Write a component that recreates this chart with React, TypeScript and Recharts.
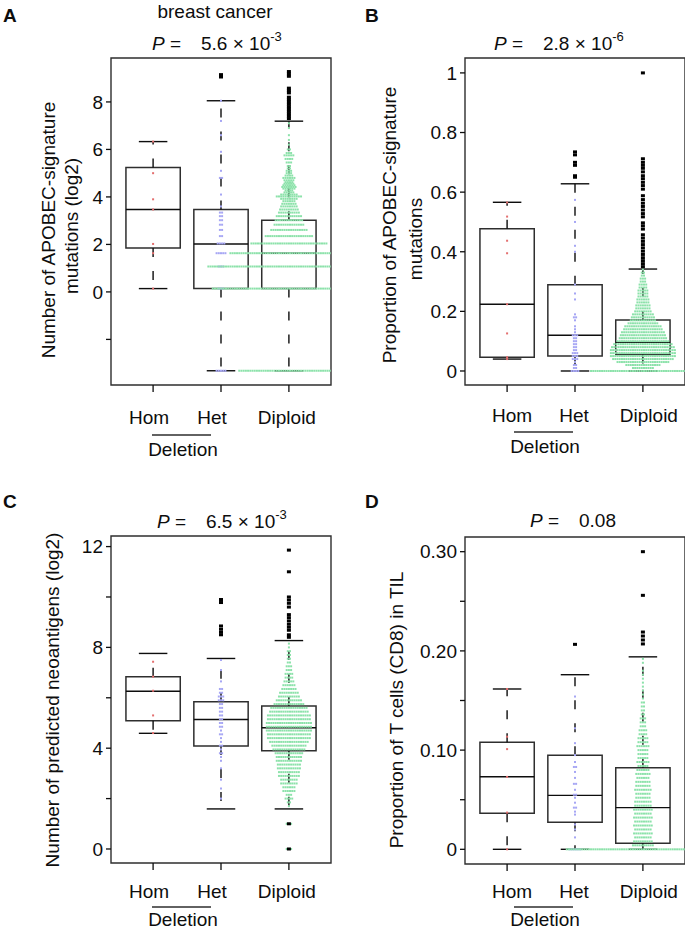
import React from "react";
import { ScatterChart, Scatter, XAxis, YAxis, ReferenceArea, ReferenceLine } from "recharts";

const FONT = '"Liberation Sans", Arial, Helvetica, sans-serif';
const INK = "#0d0d0d";
const EDGE = "#2e2e2e";
const GROUP_COLORS = ["#e46f6f", "#a6a6f4", "#8ce2aa"];
const GROUPS = ["Hom", "Het", "Diploid"];

const W = 345;
const H = 465;
const X_DOMAIN: [number, number] = [0.38, 3.62];
const BOX_HALF = 0.4;
const CAP_HALF = 0.21;
const DOT_STEP = 0.0325; // about 2.2px between dots in a swarm row

// ---- A: APOBEC-signature mutations (log2) ----
const A_TICKS = [-2, 0, 2, 4, 6, 8];
const A_TICK_LABELS = ["", "0", "2", "4", "6", "8"];
const A_Q1 = [1.85, 0.14, 0.14];
const A_MED = [3.47, 2.02, 1.63];
const A_Q3 = [5.24, 3.47, 3.02];
const A_LO = [0.14, -3.32, -3.32];
const A_HI = [6.33, 8.05, 7.19];
const A_OUT_HET = [9.15, 9.05];
const A_OUT_DIP = [9.28, 9.18, 9.08, 8.58, 8.48, 8.38, 8.2, 8.1, 8.0, 7.9, 7.8, 7.7, 7.6, 7.5, 7.4, 7.3];
const A_HOM_LEVELS = [0.14, 1.63, 2.02, 3.47, 3.9, 5.0, 6.33];
const A_HOM_COUNTS = [1, 1, 1, 1, 1, 1, 1];
const A_HET_LEVELS = [-3.32, 0.14, 1.07, 1.63, 2.04, 2.35, 2.61, 2.83, 3.02, 3.19, 3.34, 3.6, 4.1, 4.8, 5.1, 5.9, 6.6, 7.2, 8.05];
const A_HET_COUNTS = [5, 3, 3, 5, 4, 2, 2, 2, 2, 2, 2, 1, 1, 2, 1, 1, 1, 1, 1];
const A_DIP_LEVELS = [
  -3.32, 0.14, 1.07, 1.63, 2.04, 2.35, 2.61, 2.83, 3.02, 3.19, 3.34, 3.47, 3.6, 3.71, 3.82, 3.92, 4.02, 4.1, 4.19, 4.27,
  4.35, 4.42, 4.49, 4.56, 4.62, 4.7, 4.8, 4.9, 5.0, 5.1, 5.2, 5.3, 5.45, 5.6, 5.75, 5.85, 6.0, 6.2, 6.4, 6.6, 6.9, 7.1,
];
const A_DIP_COUNTS = [
  46, 70, 74, 54, 35, 22, 17, 14, 13, 12, 10, 9, 8, 7, 6, 8, 12, 8, 5, 4,
  6, 7, 6, 5, 4, 5, 6, 4, 3, 3, 2, 2, 3, 4, 5, 3, 2, 1, 1, 1, 1, 1,
];

// ---- B: proportion of APOBEC-signature mutations ----
const B_TICKS = [0, 0.2, 0.4, 0.6, 0.8, 1];
const B_TICK_LABELS = ["0", "0.2", "0.4", "0.6", "0.8", "1"];
const B_Q1 = [0.046, 0.05, 0.055];
const B_MED = [0.224, 0.12, 0.096];
const B_Q3 = [0.477, 0.289, 0.171];
const B_LO = [0.04, 0, 0];
const B_HI = [0.566, 0.628, 0.342];
const B_OUT_HET = [0.735, 0.725, 0.7, 0.69, 0.655, 0.65];
const B_OUT_DIP = [
  1.0, 0.712, 0.7, 0.69, 0.68, 0.668, 0.655, 0.645, 0.633, 0.622, 0.61, 0.588, 0.575, 0.563, 0.552, 0.54,
  0.528, 0.517, 0.497, 0.487, 0.476, 0.457, 0.446, 0.435, 0.424, 0.413, 0.402, 0.391, 0.38, 0.37, 0.36, 0.35,
];
const B_HOM_LEVELS = [0.04, 0.046, 0.126, 0.224, 0.395, 0.437, 0.518, 0.565];
const B_HOM_COUNTS = [1, 1, 1, 1, 1, 1, 1, 1];
const B_HET_LEVELS = [
  0, 0.01, 0.02, 0.03, 0.04, 0.05, 0.06, 0.07, 0.08, 0.09, 0.1, 0.11, 0.12, 0.13, 0.14, 0.15, 0.17, 0.18, 0.19, 0.24,
  0.26, 0.29, 0.4, 0.42, 0.5, 0.574,
];
const B_HET_COUNTS = [4, 2, 2, 1, 3, 3, 3, 2, 2, 2, 2, 2, 3, 1, 1, 1, 1, 2, 1, 1, 1, 1, 1, 1, 1, 1];
const B_DIP_LEVELS = [
  0, 0.01, 0.02, 0.03, 0.04, 0.05, 0.06, 0.07, 0.08, 0.09, 0.1, 0.11, 0.12, 0.13, 0.14, 0.15, 0.16, 0.17, 0.18,
  0.19, 0.2, 0.21, 0.22, 0.23, 0.24, 0.25, 0.26, 0.27, 0.28, 0.29, 0.3, 0.31, 0.32, 0.33, 0.34,
];
const B_DIP_COUNTS = [
  48, 10, 16, 24, 28, 30, 30, 30, 29, 27, 24, 22, 21, 20, 18, 17, 14, 12, 11,
  10, 8, 7, 7, 6, 6, 5, 5, 5, 4, 4, 3, 3, 2, 2, 1,
];

// ---- C: predicted neoantigens (log2) ----
const C_TICKS = [0, 2, 4, 6, 8, 10, 12];
const C_TICK_LABELS = ["0", "", "4", "", "8", "", "12"];
const C_Q1 = [5.09, 4.09, 3.9];
const C_MED = [6.26, 5.14, 4.81];
const C_Q3 = [6.83, 5.84, 5.67];
const C_LO = [4.59, 1.59, 1.59];
const C_HI = [7.76, 7.56, 8.27];
const C_OUT_HET = [9.9, 9.78, 8.85, 8.72, 8.6, 8.5];
const C_OUT_DIP = [11.86, 11.0, 10.0, 9.88, 9.75, 9.6, 9.3, 9.18, 9.05, 8.92, 8.8, 8.68, 8.5, 8.4, 1.0, 0.0];
const C_HOM_LEVELS = [4.6, 5.3, 6.28, 6.84, 7.43];
const C_HOM_COUNTS = [1, 1, 1, 1, 1];
const C_HET_LEVELS = [
  2.0, 2.4, 2.75, 3.2, 3.5, 3.65, 3.8, 3.95, 4.1, 4.25, 4.4, 4.55, 4.7, 4.85, 5.0, 5.15, 5.3, 5.45, 5.6, 5.75, 5.9,
  6.05, 6.2, 6.35, 6.65, 7.1, 7.5,
];
const C_HET_COUNTS = [1, 1, 1, 1, 1, 1, 2, 1, 2, 1, 1, 2, 1, 2, 2, 2, 2, 2, 2, 2, 3, 3, 2, 2, 1, 1, 1];
const C_DIP_LEVELS = [
  0, 1.0, 1.7, 1.85, 2.0, 2.15, 2.3, 2.45, 2.6, 2.75, 2.9, 3.05, 3.2, 3.35, 3.5, 3.65, 3.8, 3.95, 4.1, 4.25, 4.4, 4.55,
  4.7, 4.85, 5.0, 5.15, 5.3, 5.45, 5.6, 5.75, 5.9, 6.05, 6.2, 6.35, 6.5, 6.65, 6.8, 6.95, 7.1, 7.25, 7.4, 7.55, 7.7,
  7.85, 8.0, 8.15,
];
const C_DIP_COUNTS = [
  3, 3, 1, 2, 4, 3, 6, 6, 8, 8, 10, 10, 11, 11, 12, 12, 13, 15, 16, 18, 20, 20,
  21, 21, 21, 20, 20, 18, 17, 14, 12, 10, 9, 7, 6, 5, 4, 4, 3, 3, 2, 2, 2,
  2, 1, 1,
];

// ---- D: CD8 T cells in TIL ----
const D_TICKS = [0, 0.05, 0.1, 0.15, 0.2, 0.25, 0.3];
const D_TICK_LABELS = ["0", "", "0.10", "", "0.20", "", "0.30"];
const D_Q1 = [0.0363, 0.0272, 0.006];
const D_MED = [0.0732, 0.0544, 0.042];
const D_Q3 = [0.108, 0.0948, 0.0823];
const D_LO = [0, 0, 0];
const D_HI = [0.1616, 0.176, 0.194];
const D_OUT_HET = [0.2066];
const D_OUT_DIP = [0.3, 0.256, 0.219, 0.215, 0.211, 0.207];
const D_HOM_LEVELS = [0, 0.037, 0.073, 0.101, 0.1135, 0.1616];
const D_HOM_COUNTS = [1, 1, 1, 1, 1, 1];
const D_HET_LEVELS = [
  0, 0.012, 0.02, 0.025, 0.035, 0.038, 0.042, 0.047, 0.052, 0.055, 0.06, 0.066, 0.072, 0.078, 0.083, 0.088, 0.095,
  0.107, 0.122, 0.154,
];
const D_HET_COUNTS = [6, 1, 1, 1, 1, 1, 2, 1, 1, 2, 1, 2, 1, 1, 2, 1, 1, 1, 1, 1];
const D_DIP_LEVELS = [
  0, 0.004, 0.008, 0.012, 0.016, 0.02, 0.024, 0.028, 0.032, 0.036, 0.04, 0.044, 0.048, 0.052, 0.056, 0.06, 0.064,
  0.068, 0.072, 0.076, 0.08, 0.084, 0.088, 0.092, 0.096, 0.1, 0.104, 0.108, 0.112, 0.116, 0.12, 0.124, 0.128, 0.132,
  0.136, 0.14, 0.144, 0.148, 0.152, 0.156, 0.16, 0.164, 0.168, 0.172, 0.176, 0.18, 0.188, 0.192,
];
const D_DIP_COUNTS = [
  70, 10, 9, 8, 9, 8, 9, 8, 9, 8, 9, 8, 8, 7, 7, 8, 7,
  7, 6, 7, 6, 5, 6, 5, 5, 5, 6, 5, 5, 4, 4, 3, 3, 3,
  2, 2, 2, 2, 1, 1, 1, 1, 1, 1, 1, 1, 1, 1,
];

type Swarm = { levels: number[]; counts: number[] };
type TextLine = { text: string; x: number; y: number };
type PanelSpec = {
  left: number;
  top: number;
  domain: [number, number];
  ticks: number[];
  tickLabels: string[];
  q1: number[];
  med: number[];
  q3: number[];
  lo: number[];
  hi: number[];
  outliers: number[][];
  swarms: Swarm[];
  letter: TextLine;
  heading?: TextLine;
  pPos: [number, number];
  pMantissa: string;
  pExp?: string;
  yTitle: TextLine[];
  labelShift: number[];
  labelBase: number;
  bracket: { x1: number; x2: number; y: number; textX: number; textY: number };
};

// lay a row of `count` dots side by side around the group centre
function swarm(group: number, s: Swarm) {
  const pts: { x: number; y: number }[] = [];
  s.levels.forEach((v, j) => {
    const n = s.counts[j];
    for (let k = 0; k < n; k++) pts.push({ x: group + (k - (n - 1) / 2) * DOT_STEP, y: v });
  });
  return pts;
}

const dotShape = (fill: string) => (p: any) => (
  <rect x={p.cx - 1} y={p.cy - 1} width={2} height={2} fill={fill} />
);
const outlierShape = (p: any) => <rect x={p.cx - 2} y={p.cy - 1.5} width={4} height={3} fill="#000" />;

function boxParts(s: PanelSpec) {
  const parts: React.ReactNode[] = [];
  const line = { stroke: INK, strokeWidth: 1.4, ifOverflow: "visible" as const };
  GROUPS.forEach((_, i) => {
    const g = i + 1;
    parts.push(
      <ReferenceLine key={`wu${i}`} segment={[{ x: g, y: s.q3[i] }, { x: g, y: s.hi[i] }]} {...line} strokeDasharray="9 14" />,
      <ReferenceLine key={`wl${i}`} segment={[{ x: g, y: s.q1[i] }, { x: g, y: s.lo[i] }]} {...line} strokeDasharray="9 14" />,
      <ReferenceLine key={`cu${i}`} segment={[{ x: g - CAP_HALF, y: s.hi[i] }, { x: g + CAP_HALF, y: s.hi[i] }]} {...line} />,
      <ReferenceLine key={`cl${i}`} segment={[{ x: g - CAP_HALF, y: s.lo[i] }, { x: g + CAP_HALF, y: s.lo[i] }]} {...line} />,
      <ReferenceArea
        key={`b${i}`}
        x1={g - BOX_HALF}
        x2={g + BOX_HALF}
        y1={s.q1[i]}
        y2={s.q3[i]}
        fill="none"
        fillOpacity={0}
        stroke={EDGE}
        strokeWidth={1.5}
        ifOverflow="visible"
      />,
      <ReferenceLine key={`m${i}`} segment={[{ x: g - BOX_HALF, y: s.med[i] }, { x: g + BOX_HALF, y: s.med[i] }]} {...line} />
    );
  });
  return parts;
}

function GroupTick(props: any) {
  const { x, y, payload, shift, base } = props;
  const i = Math.round(payload.value) - 1;
  return (
    <text x={x + shift[i]} y={y + base} textAnchor="middle" fontSize={19} fontFamily={FONT} fill={INK}>
      {GROUPS[i]}
    </text>
  );
}

function Panel({ s }: { s: PanelSpec }) {
  const dots = s.swarms.map((sw, i) => swarm(i + 1, sw));
  const outs = s.outliers.map((o, i) => o.map((v) => ({ x: i + 1, y: v })));
  return (
    <div style={{ position: "absolute", left: s.left, top: s.top, width: W, height: H }}>
      <ScatterChart width={W} height={H} margin={{ top: 58, right: 14, bottom: 0, left: 0 }}>
        <XAxis
          type="number"
          dataKey="x"
          domain={X_DOMAIN}
          allowDataOverflow
          ticks={[1, 2, 3]}
          interval={0}
          axisLine={false}
          tickSize={7}
          tickMargin={0}
          tickLine={{ stroke: INK, strokeWidth: 1.3 }}
          height={80}
          tick={(p: any) => <GroupTick {...p} shift={s.labelShift} base={s.labelBase - 7} />}
        />
        <YAxis
          type="number"
          dataKey="y"
          domain={s.domain}
          allowDataOverflow
          ticks={s.ticks}
          interval={0}
          axisLine={false}
          width={111}
          tickSize={5}
          tickMargin={3}
          tickLine={{ stroke: INK, strokeWidth: 1.3 }}
          tick={{ fill: INK, fontSize: 19, fontFamily: FONT }}
          tickFormatter={(v: number) => s.tickLabels[s.ticks.indexOf(v)] ?? ""}
        />
        {dots.map((d, i) => (
          <Scatter key={`d${i}`} data={d} shape={dotShape(GROUP_COLORS[i])} isAnimationActive={false} />
        ))}
        {boxParts(s)}
        {outs.map((d, i) => (
          <Scatter key={`o${i}`} data={d} shape={outlierShape} isAnimationActive={false} />
        ))}
        <ReferenceArea
          x1={X_DOMAIN[0]}
          x2={X_DOMAIN[1]}
          y1={s.domain[0]}
          y2={s.domain[1]}
          fill="none"
          fillOpacity={0}
          stroke={EDGE}
          strokeWidth={1.4}
          ifOverflow="visible"
        />
      </ScatterChart>
      <svg
        width={W}
        height={H}
        style={{ position: "absolute", left: 0, top: 0, pointerEvents: "none", overflow: "visible" }}
        fontFamily={FONT}
        fill={INK}
      >
        <text x={s.letter.x} y={s.letter.y} fontSize={19} fontWeight="bold">
          {s.letter.text}
        </text>
        {s.heading && (
          <text x={s.heading.x} y={s.heading.y} fontSize={19} textAnchor="middle">
            {s.heading.text}
          </text>
        )}
        <text x={s.pPos[0]} y={s.pPos[1]} fontSize={19}>
          <tspan fontStyle="italic">P</tspan> =
        </text>
        <text x={s.pPos[0] + 49} y={s.pPos[1]} fontSize={19}>
          {s.pMantissa}
          {s.pExp && (
            <tspan dy={-9} fontSize={13}>
              {s.pExp}
            </tspan>
          )}
        </text>
        {s.yTitle.map((t) => (
          <text key={t.text} transform={`translate(${t.x},${t.y}) rotate(-90)`} textAnchor="middle" fontSize={19}>
            {t.text}
          </text>
        ))}
        <line x1={s.bracket.x1} x2={s.bracket.x2} y1={s.bracket.y} y2={s.bracket.y} stroke={EDGE} strokeWidth={1.3} />
        <text x={s.bracket.textX} y={s.bracket.textY} fontSize={19} textAnchor="middle">
          Deletion
        </text>
      </svg>
    </div>
  );
}

const LEFT_SHIFT = [-4, -9, -2];
const RIGHT_SHIFT = [5, -1, 6];

const PANELS: PanelSpec[] = [
  {
    left: 0,
    top: 0,
    domain: [-3.92, 9.85],
    ticks: A_TICKS,
    tickLabels: A_TICK_LABELS,
    q1: A_Q1,
    med: A_MED,
    q3: A_Q3,
    lo: A_LO,
    hi: A_HI,
    outliers: [[], A_OUT_HET, A_OUT_DIP],
    swarms: [
      { levels: A_HOM_LEVELS, counts: A_HOM_COUNTS },
      { levels: A_HET_LEVELS, counts: A_HET_COUNTS },
      { levels: A_DIP_LEVELS, counts: A_DIP_COUNTS },
    ],
    letter: { text: "A", x: 3, y: 22 },
    heading: { text: "breast cancer", x: 215, y: 18 },
    pPos: [152, 50],
    pMantissa: "5.6 × 10",
    pExp: "-3",
    yTitle: [
      { text: "Number of APOBEC-signature", x: 55, y: 230 },
      { text: "mutations (log2)", x: 78, y: 226 },
    ],
    labelShift: LEFT_SHIFT,
    labelBase: 39,
    bracket: { x1: 152, x2: 211, y: 435, textX: 183, textY: 456 },
  },
  {
    left: 354,
    top: 0,
    domain: [-0.047, 1.05],
    ticks: B_TICKS,
    tickLabels: B_TICK_LABELS,
    q1: B_Q1,
    med: B_MED,
    q3: B_Q3,
    lo: B_LO,
    hi: B_HI,
    outliers: [[], B_OUT_HET, B_OUT_DIP],
    swarms: [
      { levels: B_HOM_LEVELS, counts: B_HOM_COUNTS },
      { levels: B_HET_LEVELS, counts: B_HET_COUNTS },
      { levels: B_DIP_LEVELS, counts: B_DIP_COUNTS },
    ],
    letter: { text: "B", x: 11, y: 22 },
    pPos: [140, 50],
    pMantissa: "2.8 × 10",
    pExp: "-6",
    yTitle: [
      { text: "Proportion of APOBEC-signature", x: 42, y: 225 },
      { text: "mutations", x: 68, y: 239 },
    ],
    labelShift: RIGHT_SHIFT,
    labelBase: 37,
    bracket: { x1: 160, x2: 219, y: 432, textX: 191, textY: 453 },
  },
  {
    left: 0,
    top: 478,
    domain: [-0.556, 12.42],
    ticks: C_TICKS,
    tickLabels: C_TICK_LABELS,
    q1: C_Q1,
    med: C_MED,
    q3: C_Q3,
    lo: C_LO,
    hi: C_HI,
    outliers: [[], C_OUT_HET, C_OUT_DIP],
    swarms: [
      { levels: C_HOM_LEVELS, counts: C_HOM_COUNTS },
      { levels: C_HET_LEVELS, counts: C_HET_COUNTS },
      { levels: C_DIP_LEVELS, counts: C_DIP_COUNTS },
    ],
    letter: { text: "C", x: 3, y: 30 },
    pPos: [157, 50],
    pMantissa: "6.5 × 10",
    pExp: "-3",
    yTitle: [{ text: "Number of predicted neoantigens (log2)", x: 59, y: 222 }],
    labelShift: LEFT_SHIFT,
    labelBase: 35,
    bracket: { x1: 152, x2: 211, y: 429, textX: 183, textY: 448 },
  },
  {
    left: 354,
    top: 479,
    domain: [-0.0148, 0.3148],
    ticks: D_TICKS,
    tickLabels: D_TICK_LABELS,
    q1: D_Q1,
    med: D_MED,
    q3: D_Q3,
    lo: D_LO,
    hi: D_HI,
    outliers: [[], D_OUT_HET, D_OUT_DIP],
    swarms: [
      { levels: D_HOM_LEVELS, counts: D_HOM_COUNTS },
      { levels: D_HET_LEVELS, counts: D_HET_COUNTS },
      { levels: D_DIP_LEVELS, counts: D_DIP_COUNTS },
    ],
    letter: { text: "D", x: 11, y: 29 },
    pPos: [176, 48],
    pMantissa: "0.08",
    yTitle: [{ text: "Proportion of T cells (CD8) in TIL", x: 49, y: 231 }],
    labelShift: RIGHT_SHIFT,
    labelBase: 34,
    bracket: { x1: 160, x2: 219, y: 428, textX: 191, textY: 447 },
  },
];

export default function App() {
  return (
    <div style={{ position: "absolute", left: 0, top: 0, width: 685, height: 930, background: "#fff", overflow: "hidden" }}>
      {PANELS.map((p) => (
        <Panel key={p.letter.text} s={p} />
      ))}
    </div>
  );
}
